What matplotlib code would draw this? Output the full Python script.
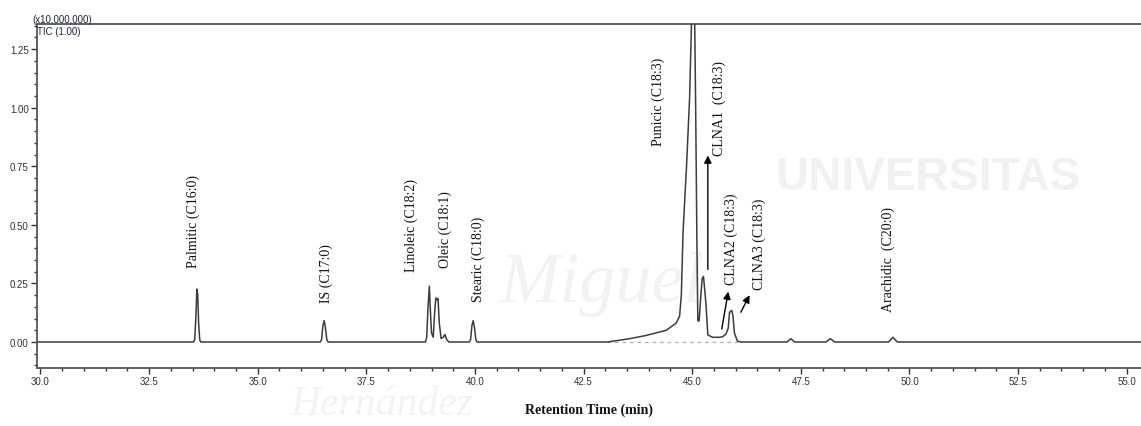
import matplotlib
matplotlib.use("Agg")
import matplotlib.pyplot as plt
from matplotlib.ticker import MultipleLocator, FormatStrFormatter

# --- chromatogram trace (retention time in min, signal in x10,000,000) ---
rt = [29.85,
      33.52, 33.55, 33.575, 33.60, 33.62, 33.64, 33.665, 33.69,
      36.44, 36.47, 36.50, 36.53, 36.56, 36.59, 36.62,
      38.86, 38.89, 38.92, 38.95, 38.97, 39.00, 39.04, 39.07, 39.10, 39.13, 39.15, 39.18,
      39.22, 39.27, 39.31, 39.35, 39.40,
      39.87, 39.90, 39.93, 39.96, 39.99, 40.02, 40.05,
      43.05, 43.56, 43.94, 44.40, 44.63, 44.71, 44.75, 44.79, 44.87, 44.94, 44.99, 45.02,
      45.05, 45.08, 45.11, 45.13, 45.16, 45.20, 45.23, 45.26, 45.29, 45.32, 45.36, 45.47,
      45.62, 45.70, 45.78, 45.83, 45.86, 45.91, 45.94, 45.97, 46.04, 46.12,
      47.18, 47.27, 47.36, 48.08, 48.18, 48.28, 49.52, 49.62, 49.72,
      55.40]
signal = [0.0,
          0.0, 0.01, 0.10, 0.226, 0.20, 0.08, 0.01, 0.0,
          0.0, 0.01, 0.07, 0.091, 0.06, 0.01, 0.0,
          0.0, 0.02, 0.15, 0.238, 0.15, 0.04, 0.02, 0.12, 0.188, 0.18, 0.185, 0.08,
          0.015, 0.02, 0.032, 0.01, 0.0,
          0.0, 0.01, 0.07, 0.091, 0.06, 0.01, 0.0,
          0.0, 0.014, 0.028, 0.05, 0.08, 0.11, 0.20, 0.47, 0.75, 1.04, 1.40, 1.70,
          1.50, 1.00, 0.40, 0.09, 0.09, 0.20, 0.27, 0.28, 0.22, 0.155, 0.03, 0.02,
          0.02, 0.022, 0.035, 0.06, 0.127, 0.135, 0.11, 0.04, 0.004, 0.0,
          0.0, 0.014, 0.0, 0.0, 0.014, 0.0, 0.0, 0.02, 0.0,
          0.0]

# dashed baseline under the Punicic / CLNA cluster
baseline_rt = [43.05, 46.05]
baseline_y = [0.0, 0.0]

# peak labels: text, x, y of text bottom
label_text = ["Palmitic (C16:0)", "IS (C17:0)", "Linoleic (C18:2)", "Oleic (C18:1)",
              "Stearic (C18:0)", "Punicic (C18:3)", "CLNA1  (C18:3)", "CLNA2 (C18:3)",
              "CLNA3 (C18:3)", "Arachidic  (C20:0)"]
label_x = [33.52, 36.57, 38.54, 39.31, 40.08, 44.22, 45.63, 45.90, 46.55, 49.52]
label_y = [0.32, 0.172, 0.305, 0.32, 0.177, 0.84, 0.796, 0.248, 0.226, 0.134]

# arrows: tail -> head
arrow_tail = [(45.36, 0.31), (45.68, 0.055), (46.12, 0.127)]
arrow_head = [(45.36, 0.796), (45.83, 0.215), (46.32, 0.20)]

xticks = [30.0, 32.5, 35.0, 37.5, 40.0, 42.5, 45.0, 47.5, 50.0, 52.5, 55.0]
yticks = [0.00, 0.25, 0.50, 0.75, 1.00, 1.25]

W, H = 1141, 427
fig = plt.figure(figsize=(W / 100, H / 100), dpi=100)

# faint watermark on a background layer, kept clear of the peak labels
bg = fig.add_axes([0, 0, 1, 1], zorder=0)
bg.axis('off')
bg.set_xlim(0, W)
bg.set_ylim(H, 0)
bg.text(775, 178, "UNIVERSITAS", fontsize=33, fontweight='bold',
        family='Liberation Sans', color='#f1f1f1', va='center', ha='left')
bg.text(500, 285, "Miguel", fontsize=52, style='italic',
        family='Liberation Serif', color='#f2f2f2', va='center', ha='left')
bg.text(290, 424, "Hernández", fontsize=30, style='italic',
        family='Liberation Serif', color='#f3f3f3', va='bottom', ha='left')

ax = fig.add_axes([37 / W, (H - 369) / H, 1 - 37 / W, (369 - 25) / H], zorder=1)
ax.set_facecolor('none')

ax.plot(baseline_rt, baseline_y, color='#b0b0b0', lw=0.9, ls=(0, (3, 3)), zorder=2)
ax.plot(rt, signal, color='#3c3c3c', lw=1.1, zorder=3)

for t, x, y in zip(label_text, label_x, label_y):
    ax.text(x, y, t, rotation=90, ha='center', va='bottom', fontsize=10,
            family='Liberation Serif', color='#111111', zorder=4)

for tail, head in zip(arrow_tail, arrow_head):
    ax.annotate('', xy=head, xytext=tail,
                arrowprops=dict(arrowstyle='-|>', color='black', lw=1.0,
                                mutation_scale=11, shrinkA=0, shrinkB=0), zorder=4)

ax.set_xlim(29.92, 55.33)
ax.set_ylim(-0.111, 1.357)
ax.set_xticks(xticks)
ax.set_yticks(yticks)
ax.xaxis.set_major_formatter(FormatStrFormatter('%.1f'))
ax.yaxis.set_major_formatter(FormatStrFormatter('%.2f'))
ax.xaxis.set_minor_locator(MultipleLocator(0.5))
ax.yaxis.set_minor_locator(MultipleLocator(0.05))
ax.tick_params(which='major', direction='out', length=4, width=1, color='#333333',
               labelsize=7, labelcolor='#333333', pad=2)
ax.tick_params(which='minor', direction='out', length=2, width=1, color='#333333')
for lab in ax.get_xticklabels() + ax.get_yticklabels():
    lab.set_family('Liberation Sans')

ax.spines['right'].set_visible(False)
for s in ['left', 'bottom', 'top']:
    ax.spines[s].set_color('#555555')
    ax.spines[s].set_linewidth(1.3)

ax.set_xlabel("Retention Time (min)", fontsize=10, fontweight='bold',
              family='Liberation Serif', color='#111111', labelpad=12)

ax.text(-0.004, 1.0, "(x10,000,000)", transform=ax.transAxes, fontsize=7,
        family='Liberation Sans', color='#222244', ha='left', va='bottom')
ax.text(0.0, 0.993, "TIC (1.00)", transform=ax.transAxes, fontsize=7,
        family='Liberation Sans', color='#222244', ha='left', va='top')

fig.savefig('out.png', dpi=100)
